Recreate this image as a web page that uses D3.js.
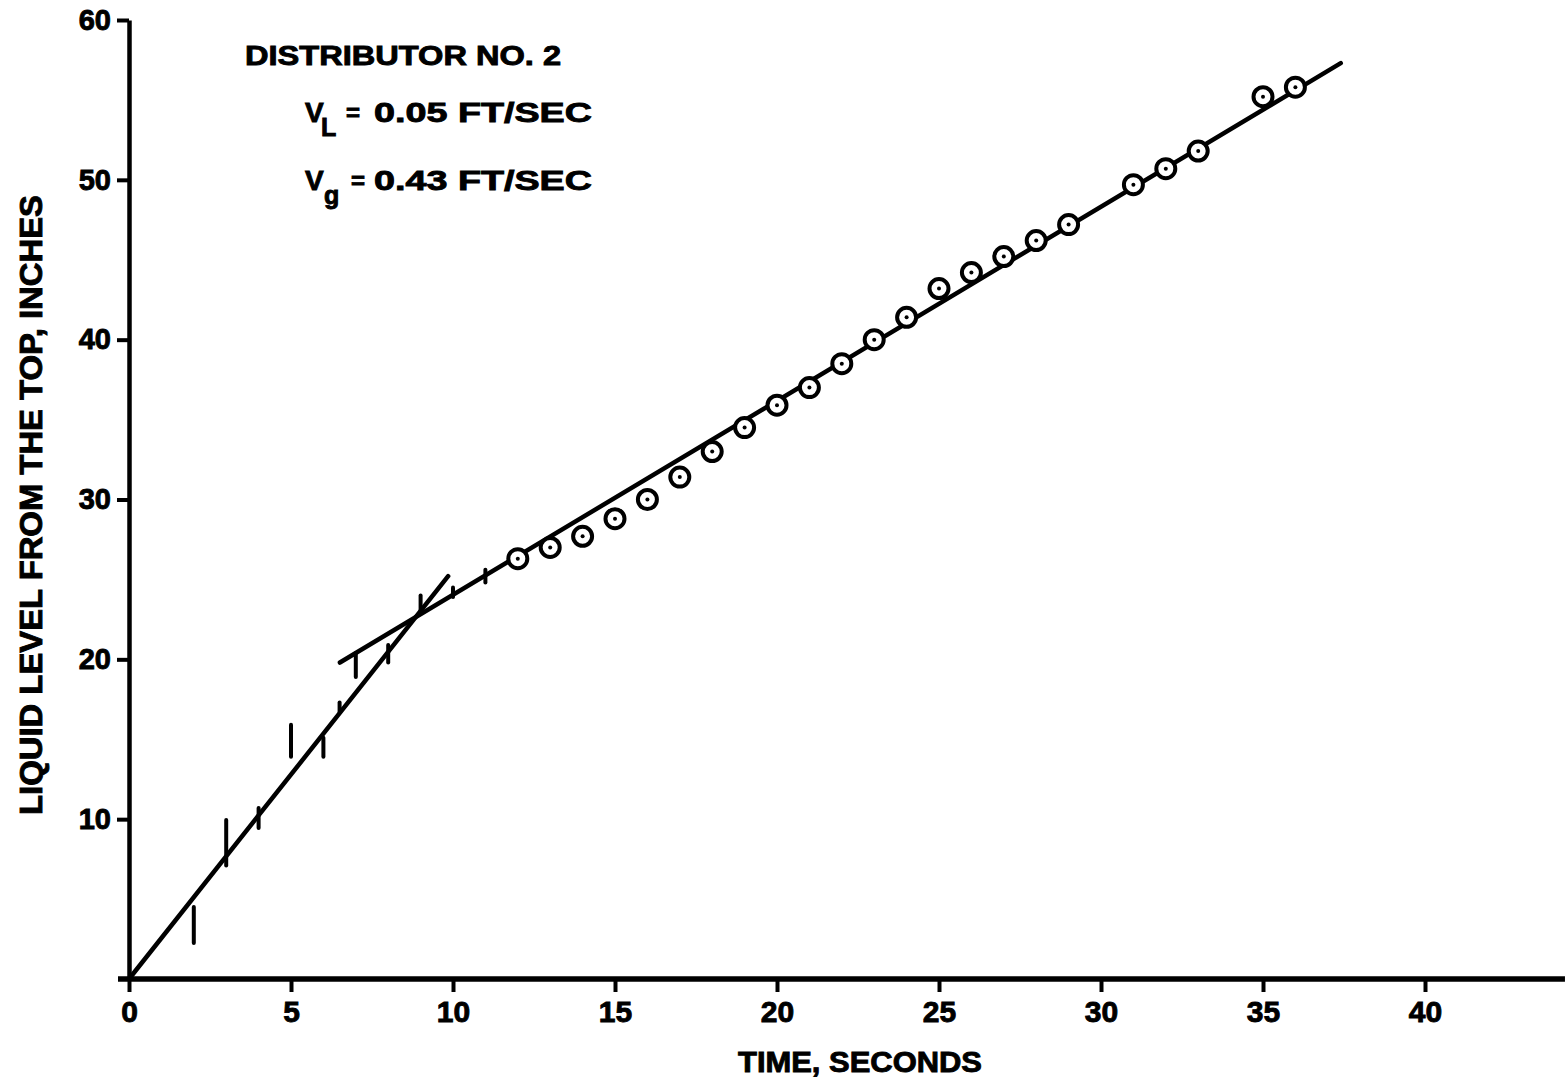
<!DOCTYPE html>
<html>
<head>
<meta charset="utf-8">
<script src="https://cdn.jsdelivr.net/npm/d3@7"></script>
<style>
  html, body { margin: 0; padding: 0; background: #fff; }
  svg text { font-family: "Liberation Sans", Arial, Helvetica, sans-serif; font-weight: bold; fill: #000; stroke: #000; stroke-width: 0.9px; }
</style>
</head>
<body>
<svg id="chart" width="1565" height="1081"></svg>
<script>
// ---- data ----
const xTicks = [0, 5, 10, 15, 20, 25, 30, 35, 40];
const yTicks = [10, 20, 30, 40, 50, 60];

// circle data points (time s, level in)
const circleTime  = [12, 13, 14, 15, 16, 17, 18, 19, 20, 21, 22, 23, 24, 25, 26, 27, 28, 29, 31, 32, 33, 35, 36];
const circleLevel = [26.3, 27.0, 27.7, 28.8, 30.0, 31.4, 33.0, 34.5, 35.9, 37.0, 38.5, 40.0, 41.4, 43.2, 44.2, 45.2, 46.2, 47.2, 49.7, 50.7, 51.8, 55.2, 55.8];

// vertical range marks (time, low, high)
const barTime = [2, 3, 4, 5, 6, 6.5, 7, 8, 9, 10, 11];
const barLow  = [2.25, 7.1, 9.45, 13.9, 13.9, 16.7, 18.9, 19.8, 22.9, 23.9, 24.8];
const barHigh = [4.5, 9.95, 10.7, 15.9, 15.1, 17.3, 20.4, 20.9, 24.0, 24.5, 25.6];

// fitted lines (time, level)
const line1 = [[0, 0], [9.85, 25.2]];
const line2 = [[6.51, 19.8], [37.4, 57.3]];

const xAxisEnd = 44.32;

// ---- drawing ----
const svg = d3.select("#chart");
const x = d3.scaleLinear().domain([0, 40]).range([129, 1425]);
const y = d3.scaleLinear().domain([0, 60]).range([979, 20]);

const sw = 4.5;

// y axis
const yAxis = d3.axisLeft(y).tickValues(yTicks).tickSize(12).tickPadding(6).tickSizeOuter(0);
const gy = svg.append("g").attr("transform", `translate(${x(0)},0)`).call(yAxis);
gy.select(".domain").attr("stroke", "#000").attr("stroke-width", sw);
gy.selectAll(".tick line").attr("stroke", "#000").attr("stroke-width", 4);
gy.selectAll(".tick text").style("font-size", "29px").attr("fill", "#000");

// x axis
const xAxis = d3.axisBottom(x).tickValues(xTicks).tickSize(13).tickPadding(9).tickSizeOuter(0);
const gx = svg.append("g").attr("transform", `translate(0,${y(0)})`).call(xAxis);
gx.select(".domain").remove();
gx.selectAll(".tick line").attr("stroke", "#000").attr("stroke-width", 4);
gx.selectAll(".tick text").style("font-size", "30px").attr("fill", "#000");
svg.append("line")
  .attr("x1", x(0) - 11).attr("x2", x(xAxisEnd))
  .attr("y1", y(0)).attr("y2", y(0))
  .attr("stroke", "#000").attr("stroke-width", 5.5);

// axis titles
svg.append("text")
  .attr("x", 860).attr("y", 1072)
  .attr("text-anchor", "middle")
  .attr("textLength", 244).attr("lengthAdjust", "spacingAndGlyphs")
  .style("font-size", "29px")
  .text("TIME, SECONDS");

svg.append("text")
  .attr("transform", `translate(42,505) rotate(-90)`)
  .attr("text-anchor", "middle")
  .attr("textLength", 620).attr("lengthAdjust", "spacingAndGlyphs")
  .style("font-size", "31px")
  .text("LIQUID LEVEL FROM THE TOP, INCHES");

// lines
const lineGen = d3.line().x(d => x(d[0])).y(d => y(d[1]));
[line1, line2].forEach(l => {
  svg.append("path").attr("d", lineGen(l))
    .attr("fill", "none").attr("stroke", "#000")
    .attr("stroke-width", sw).attr("stroke-linecap", "round");
});

// range bars
barTime.forEach((t, i) => {
  svg.append("line")
    .attr("x1", x(t)).attr("x2", x(t))
    .attr("y1", y(barLow[i])).attr("y2", y(barHigh[i]))
    .attr("stroke", "#000").attr("stroke-width", 4).attr("stroke-linecap", "round");
});

// circle markers
circleTime.forEach((t, i) => {
  svg.append("circle")
    .attr("cx", x(t)).attr("cy", y(circleLevel[i])).attr("r", 9.5)
    .attr("fill", "#fff").attr("stroke", "#000").attr("stroke-width", 4);
  svg.append("circle")
    .attr("cx", x(t)).attr("cy", y(circleLevel[i])).attr("r", 2)
    .attr("fill", "#000");
});

// annotations
svg.append("text").attr("x", 245).attr("y", 65)
  .attr("textLength", 316).attr("lengthAdjust", "spacingAndGlyphs")
  .style("font-size", "27px").text("DISTRIBUTOR NO. 2");

function vLine(baseY, sub, subX, eqX, value) {
  svg.append("text").attr("x", 305).attr("y", baseY).style("font-size", "28px").text("V");
  svg.append("text").attr("x", subX).attr("y", baseY + 14).style("font-size", "25px").text(sub);
  svg.append("text").attr("x", eqX).attr("y", baseY - 1).style("font-size", "24px").text("=");
  svg.append("text").attr("x", 374).attr("y", baseY)
    .attr("textLength", 218).attr("lengthAdjust", "spacingAndGlyphs")
    .style("font-size", "28px").text(value);
}
vLine(122, "L", 321, 346, "0.05 FT/SEC");
vLine(190, "g", 324, 351, "0.43 FT/SEC");
</script>
</body>
</html>
